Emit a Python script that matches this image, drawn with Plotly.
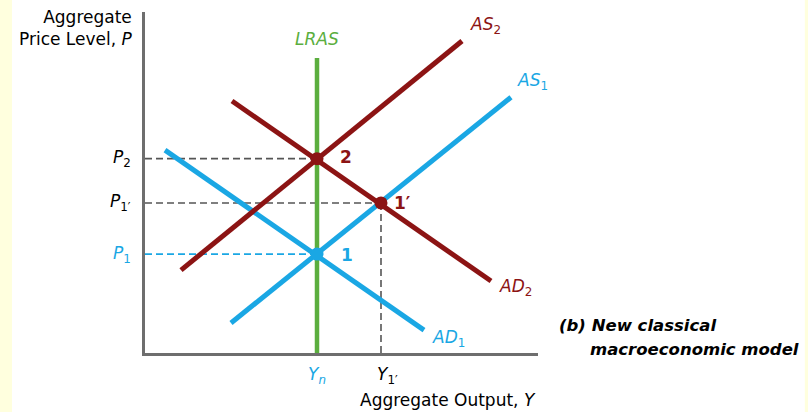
import plotly.graph_objects as go

# ---- data (abstract units) ----
ad1_x = [5.0, 69.75]
ad1_y = [59.5, 6.7]
as1_x = [21.5, 91.5]
as1_y = [8.8, 75.0]
ad2_x = [21.75, 86.5]
ad2_y = [73.9, 21.1]
as2_x = [9.0, 79.25]
as2_y = [24.3, 91.5]
lras_x = [43.0, 43.0]
lras_y = [0.0, 86.5]

yn = 43.0
y1p = 59.0
p2 = 57.0
p1p = 44.0
p1 = 29.0

pt_red_x = [yn, y1p]
pt_red_y = [p2, p1p]
pt_blue_x = [yn]
pt_blue_y = [p1]

BLUE = "#1AA7E4"
RED = "#8C1414"
GREEN = "#5BAE3E"
GRAY = "#555555"
FONT = "DejaVu Sans"

fig = go.Figure()

# dashed guides
dash = "7px,4px"
fig.add_trace(go.Scatter(x=[0, yn], y=[p2, p2], mode="lines",
                         line=dict(color=GRAY, width=1.6, dash=dash)))
fig.add_trace(go.Scatter(x=[0, y1p], y=[p1p, p1p], mode="lines",
                         line=dict(color=GRAY, width=1.6, dash=dash)))
fig.add_trace(go.Scatter(x=[y1p, y1p], y=[p1p, 0], mode="lines",
                         line=dict(color=GRAY, width=1.6, dash=dash)))
fig.add_trace(go.Scatter(x=[0, yn], y=[p1, p1], mode="lines",
                         line=dict(color=BLUE, width=1.6, dash=dash)))

for xs, ys, c in [(ad1_x, ad1_y, BLUE), (as1_x, as1_y, BLUE),
                  (ad2_x, ad2_y, RED), (as2_x, as2_y, RED)]:
    fig.add_trace(go.Scatter(x=xs, y=ys, mode="lines",
                             line=dict(color=c, width=5)))
fig.add_trace(go.Scatter(x=lras_x, y=lras_y, mode="lines",
                         line=dict(color=GREEN, width=4.5)))

fig.add_trace(go.Scatter(x=pt_red_x, y=pt_red_y, mode="markers",
                         marker=dict(color=RED, size=13)))
fig.add_trace(go.Scatter(x=pt_blue_x, y=pt_blue_y, mode="markers",
                         marker=dict(color=BLUE, size=13)))

ann = []
def A(text, x, y, color="black", xref="x", yref="y", xanchor="left",
      size=17, align="left", yanchor="middle"):
    ann.append(dict(text=text, x=x, y=y, xref=xref, yref=yref, showarrow=False,
                    xanchor=xanchor, yanchor=yanchor, align=align,
                    font=dict(family=FONT, size=size, color=color)))

# curve labels
A("<i>LRAS</i>", 42.9, 92.0, GREEN, xanchor="center")
A("<i>AS</i><sub>2</sub>", 80.75, 96.0, RED)
A("<i>AS</i><sub>1</sub>", 92.5, 79.5, BLUE)
A("<i>AD</i><sub>2</sub>", 88.0, 19.1, RED)
A("<i>AD</i><sub>1</sub>", 71.25, 4.4, BLUE)
A("<b>2</b>", 48.25, 57.5, RED)
A("<b>1′</b>", 61.75, 44.0, RED)
A("<b>1</b>", 48.5, 28.7, BLUE)

# axis tick labels
A("<i>P</i><sub>2</sub>", -0.0305, p2, xref="paper", xanchor="right")
A("<i>P</i><sub>1′</sub>", -0.0305, p1p, xref="paper", xanchor="right")
A("<i>P</i><sub>1</sub>", -0.0305, p1, BLUE, xref="paper", xanchor="right")
A("<i>Y</i><sub><i>n</i></sub>", yn, -0.065, BLUE, yref="paper", xanchor="center")
A("<i>Y</i><sub>1′</sub>", 60.5, -0.065, yref="paper", xanchor="center")

# axis titles
A("Aggregate Output, <i>Y</i>", 53.25, -0.138, yref="paper")
A("Aggregate<br>Price Level, <i>P</i>", -0.0254, 0.953, xref="paper",
  yref="paper", xanchor="right", align="right")

# panel caption
A("<b><i>(b) New classical</i></b>", 1.048, 0.082, xref="paper", yref="paper", size=16.5)
A("<b><i>macroeconomic model</i></b>", 1.127, 0.0088, xref="paper", yref="paper", size=16.5)

fig.update_layout(
    width=808, height=412,
    margin=dict(l=145, r=270, t=12, b=59),
    paper_bgcolor="#FFFFDE",
    plot_bgcolor="white",
    showlegend=False,
    annotations=ann,
    shapes=[dict(type="rect", xref="paper", yref="paper",
                 x0=-0.3384, x1=1.679, y0=-0.3, y1=1.2,
                 fillcolor="white", line=dict(width=0), layer="below")],
    xaxis=dict(range=[0, 98.25], showgrid=False, zeroline=False,
               showticklabels=False, ticks="", showline=True,
               linecolor="#6E6E6E", linewidth=2.5),
    yaxis=dict(range=[0, 100], showgrid=False, zeroline=False,
               showticklabels=False, ticks="", showline=True,
               linecolor="#6E6E6E", linewidth=2.5),
)

fig.write_html("out.html",
               config={"displayModeBar": False},
               post_script="document.body.style.margin='0';"
                           "document.body.style.background='#FFFFDE';")
